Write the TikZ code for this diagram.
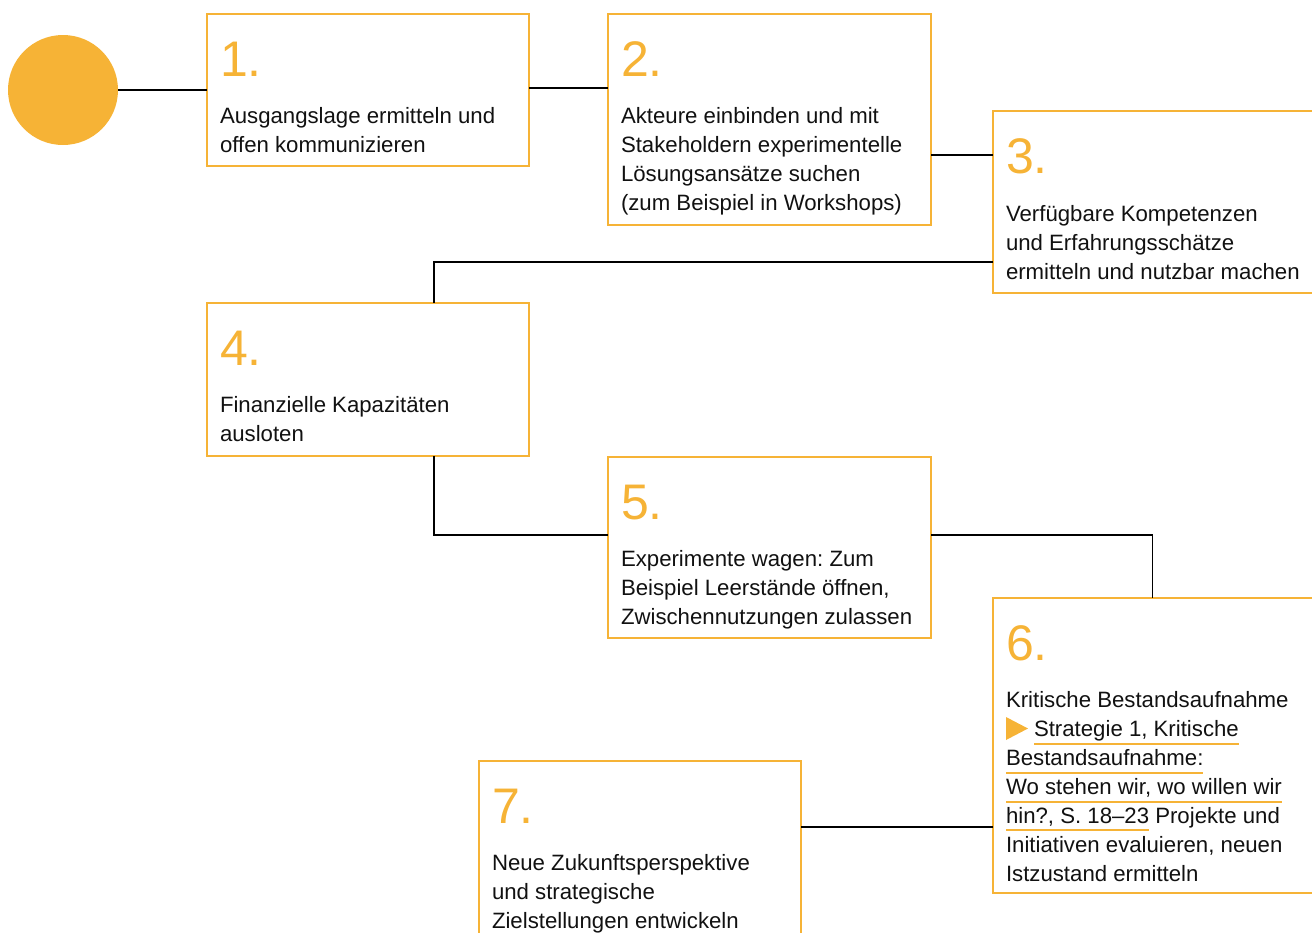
\documentclass[tikz,border=0pt]{standalone}
\usepackage{fontspec}
\setmainfont{Liberation Sans}
\frenchspacing
\definecolor{orng}{HTML}{F6B336}
\definecolor{ink}{HTML}{111111}
\newcommand{\bodyfnt}{\fontsize{22.2}{29}\selectfont}
\newcommand{\numfnt}{\fontsize{50}{50}\selectfont}
\begin{document}
\begin{tikzpicture}[x=1pt,y=-1pt,
  box/.style={draw=orng, line width=1.1pt, anchor=north west, inner sep=0, outer sep=0},
  num/.style={anchor=base west, inner sep=0, outer sep=0, text=orng, font=\numfnt},
  txt/.style={anchor=base west, inner sep=0, outer sep=0, text=ink, font=\bodyfnt},
  conn/.style={draw=black, line width=1.2pt},
  uline/.style={draw=orng, line width=1.2pt}]
\path[use as bounding box] (0,0) rectangle (1312,932);
\clip (0,0) rectangle (1312,932);

% start circle
\node (c) [circle, fill=orng, inner sep=0, outer sep=0, minimum size=110pt] at (63,90) {};

% boxes
\node (b1) [box, minimum width=322pt, minimum height=152pt] at (207,14) {};
\node (b2) [box, minimum width=323pt, minimum height=211pt] at (608,14) {};
\node (b3) [box, minimum width=340pt, minimum height=182pt] at (993,111) {};
\node (b4) [box, minimum width=322pt, minimum height=153pt] at (207,303) {};
\node (b5) [box, minimum width=323pt, minimum height=181pt] at (608,457) {};
\node (b6) [box, minimum width=340pt, minimum height=295pt] at (993,598) {};
\node (b7) [box, minimum width=322pt, minimum height=190pt] at (479,761) {};

% connectors
\draw[conn] (c.east) -- (c.east -| b1.west);
\draw[conn] ([yshift=2pt]b1.east) -- ([yshift=2pt]b1.east -| b2.west);
\draw[conn] ([yshift=-35.5pt]b2.east) -- ([yshift=-35.5pt]b2.east -| b3.west);
\draw[conn] ([yshift=-60pt]b3.west) -| ([xshift=66pt]b4.north);
\draw[conn] ([xshift=66pt]b4.south) |- ([yshift=12.5pt]b5.west);
\draw[conn] ([yshift=12.5pt]b5.east) -| ([xshift=-10.5pt]b6.north);
\draw[conn] ([yshift=29pt]b7.east) -- ([yshift=29pt]b7.east -| b6.west);

% box 1
\node (n1) [num] at (220,76) {1.};
\node (t1a) [txt] at (220,123) {Ausgangslage ermitteln und};
\node (t1b) [txt] at (220,152) {offen kommunizieren};

% box 2
\node (n2) [num] at (621,76) {2.};
\node (t2a) [txt] at (621,123) {Akteure einbinden und mit};
\node (t2b) [txt] at (621,152) {Stakeholdern experimentelle};
\node (t2c) [txt] at (621,181) {Lösungsansätze suchen};
\node (t2d) [txt] at (621,210) {(zum Beispiel in Workshops)};

% box 3
\node (n3) [num] at (1006,173) {3.};
\node (t3a) [txt] at (1006,221) {Verfügbare Kompetenzen};
\node (t3b) [txt] at (1006,250) {und Erfahrungsschätze};
\node (t3c) [txt] at (1006,279) {ermitteln und nutzbar machen};

% box 4
\node (n4) [num] at (220,365) {4.};
\node (t4a) [txt] at (220,412) {Finanzielle Kapazitäten};
\node (t4b) [txt] at (220,441) {ausloten};

% box 5
\node (n5) [num] at (621,519) {5.};
\node (t5a) [txt] at (621,566) {Experimente wagen: Zum};
\node (t5b) [txt] at (621,595) {Beispiel Leerstände öffnen,};
\node (t5c) [txt] at (621,624) {Zwischennutzungen zulassen};

% box 6
\node (n6) [num] at (1006,660) {6.};
\node (t6a) [txt] at (1006,707) {Kritische Bestandsaufnahme};
\fill[orng] (1006,717) -- (1028,728.5) -- (1006,740) -- cycle;
\node (t6b) [txt] at (1034,736) {Strategie 1, Kritische};
\node (t6c) [txt] at (1006,765) {Bestandsaufnahme:};
\node (t6d) [txt] at (1006,794) {Wo stehen wir, wo willen wir};
\node (t6e) [txt] at (1006,823) {hin?, S. 18–23};
\node (t6f) [txt, anchor=base west] at ([xshift=6.1pt]t6e.base east) {Projekte und};
\node (t6g) [txt] at (1006,852) {Initiativen evaluieren, neuen};
\node (t6h) [txt] at (1006,881) {Istzustand ermitteln};
\draw[uline] ([yshift=-8pt]t6b.base west) -- ([yshift=-8pt]t6b.base east);
\draw[uline] ([yshift=-8pt]t6c.base west) -- ([yshift=-8pt]t6c.base east);
\draw[uline] ([yshift=-8pt]t6d.base west) -- ([yshift=-8pt]t6d.base east);
\draw[uline] ([yshift=-7pt]t6e.base west) -- ([yshift=-7pt]t6e.base east);

% box 7
\node (n7) [num] at (492,823) {7.};
\node (t7a) [txt] at (492,870) {Neue Zukunftsperspektive};
\node (t7b) [txt] at (492,899) {und strategische};
\node (t7c) [txt] at (492,928) {Zielstellungen entwickeln};
\end{tikzpicture}
\end{document}
